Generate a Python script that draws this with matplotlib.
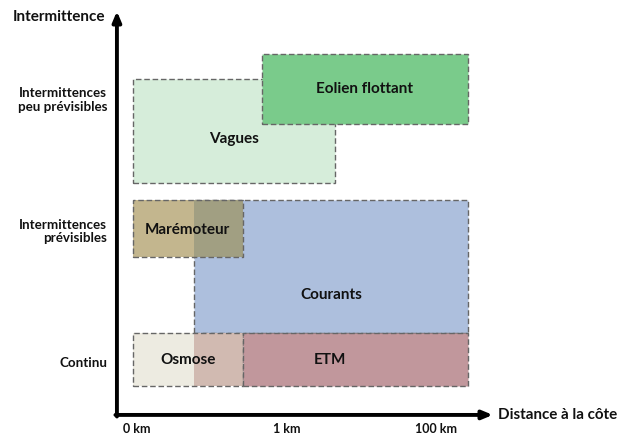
import matplotlib
matplotlib.use("Agg")
import matplotlib.pyplot as plt
from matplotlib.patches import Rectangle

plt.rcParams['font.family'] = ['Lato', 'DejaVu Sans']

# x: distance units (0 = 0 km, 1 = 1 km, 2 = 100 km); y: intermittence levels
x_ticks = [0, 1, 2]
x_tick_labels = ["0 km", "1 km", "100 km"]
y_levels = [0, 1, 2]
y_level_labels = ["Continu", "Intermittences\nprévisibles", "Intermittences\npeu prévisibles"]

names = ["Vagues", "Eolien flottant", "Courants", "Marémoteur", "Osmose", "ETM"]
x0 = [-0.027, 0.836, 0.381, -0.027, -0.027, 0.709]
x1 = [1.324, 2.214, 2.214, 0.709, 0.709, 2.214]
y0 = [1.369, 1.817, 0.228, 0.806, -0.175, -0.175]
y1 = [2.160, 2.350, 1.240, 1.240, 0.228, 0.228]
colors = ["#D6EDDA", "#7ACB8B", "#ADBFDD", "#C3B68E", "#EDEBE1", "#C1979C"]
label_x = [0.65, 1.525, 1.30, 0.34, 0.34, 1.29]
label_y = [1.70, 2.08, 0.52, 1.01, 0.02, 0.02]

# overlap shading (region of first box also covered by second)
ov_x0 = [0.381, 0.381]
ov_x1 = [0.709, 0.709]
ov_y0 = [0.806, -0.175]
ov_y1 = [1.240, 0.228]
ov_colors = ["#A19F82", "#D1BAB1"]

fig = plt.figure(figsize=(6.22, 4.34), dpi=100)
ax = fig.add_axes([0, 0, 1, 1])
ax.set_xlim(-0.916, 3.244)
ax.set_ylim(-0.540, 2.760)
ax.axis('off')

edge = "#666666"
ls = (0, (4, 2))

def box(i, border=True, z=1):
    ax.add_patch(Rectangle((x0[i], y0[i]), x1[i] - x0[i], y1[i] - y0[i],
                           facecolor=colors[i], edgecolor=edge if border else 'none',
                           linestyle=ls, linewidth=1.0, zorder=z))

def border(i, z):
    ax.add_patch(Rectangle((x0[i], y0[i]), x1[i] - x0[i], y1[i] - y0[i],
                           facecolor='none', edgecolor=edge,
                           linestyle=ls, linewidth=1.0, zorder=z))

# Vagues, Eolien
box(0, z=1)
box(1, z=2)
# Courants
box(2, z=3)
# Marémoteur with overlap
box(3, border=False, z=4)
ax.add_patch(Rectangle((ov_x0[0], ov_y0[0]), ov_x1[0] - ov_x0[0], ov_y1[0] - ov_y0[0],
                       facecolor=ov_colors[0], edgecolor='none', zorder=5))
border(3, 6)
# Osmose with overlap
box(4, border=False, z=4)
ax.add_patch(Rectangle((ov_x0[1], ov_y0[1]), ov_x1[1] - ov_x0[1], ov_y1[1] - ov_y0[1],
                       facecolor=ov_colors[1], edgecolor='none', zorder=5))
border(4, 6)
# ETM
box(5, z=7)

for i, n in enumerate(names):
    ax.text(label_x[i], label_y[i], n, ha='center', va='center',
            fontsize=11, fontweight='bold', color='#111111', zorder=10)

# axes arrows
ox, oy = -0.134, -0.395
ax.annotate("", xy=(ox, 2.675), xytext=(ox, oy - 0.012),
            arrowprops=dict(arrowstyle='-|>,head_length=0.6,head_width=0.25', lw=2.8,
                            color='black', shrinkA=0, shrinkB=0))
ax.annotate("", xy=(2.38, oy), xytext=(ox - 0.01, oy),
            arrowprops=dict(arrowstyle='-|>,head_length=0.6,head_width=0.25', lw=2.8,
                            color='black', shrinkA=0, shrinkB=0))

ax.text(-0.214, 2.63, "Intermittence", ha='right', va='center',
        fontsize=11, fontweight='bold', color='#111111')
ax.text(3.215, oy, "Distance à la côte", ha='right', va='center',
        fontsize=10.9, fontweight='bold', color='#111111')

for xt, lab in zip(x_ticks, x_tick_labels):
    ax.text(xt, -0.505, lab, ha='center', va='center',
            fontsize=9, fontweight='bold', color='#111111')

for yl, lab in zip(y_levels, y_level_labels):
    ax.text(-0.20, yl, lab, ha='right', va='center', linespacing=1.15,
            fontsize=9.6, fontweight='bold', color='#111111')

fig.savefig("out.png", dpi=100)
